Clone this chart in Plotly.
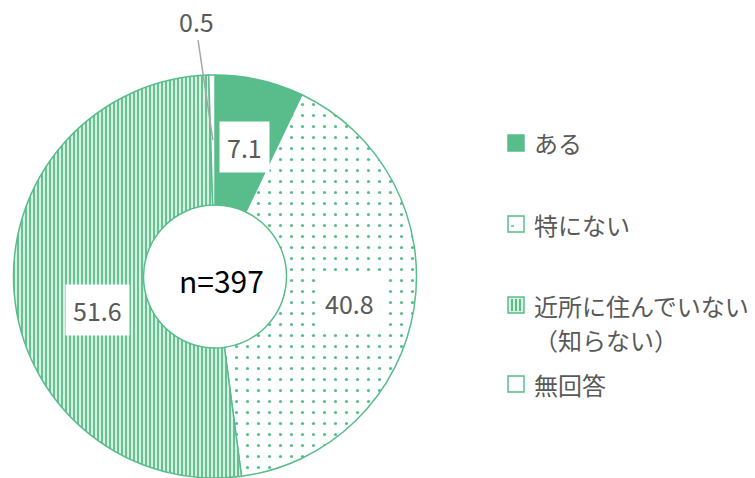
import math
import plotly.graph_objects as go

# ---- data ----
categories = ["ある", "特にない", "近所に住んでいない（知らない）", "無回答"]
legend_lines = [["ある"], ["特にない"], ["近所に住んでいない", "（知らない）"], ["無回答"]]
values = [7.1, 40.8, 51.6, 0.5]
sample_size = 397

# ---- style ----
W, H = 755, 478
GREEN = "#58BD8A"
LIGHT_GREEN = "#D9F0E3"
TEXT_GRAY = "#595959"
FONT = "Noto Sans CJK JP"

cx, cy = 215, 276.5      # donut centre (px)
R = 201.5                # outer radius (px)
HOLE_R = 71.5            # inner radius (px)

# per-slice label placement: (radius px, angle offset deg, boxed)
label_place = [(133, 0.2, True), (137.5, 2.0, True), (122, -11.3, True), (256, -3.2, False)]


def px(x):
    return x / W


def py(y):
    return 1 - y / H


def polar(r, deg):
    a = math.radians(deg)
    return cx + r * math.sin(a), cy - r * math.cos(a)


fig = go.Figure(go.Pie(
    labels=categories,
    values=values,
    sort=False,
    direction="clockwise",
    rotation=0,
    hole=HOLE_R / R,
    domain=dict(x=[px(cx - R), px(cx + R)], y=[py(cy + R), py(cy - R)]),
    marker=dict(
        colors=[GREEN, GREEN, GREEN, "white"],
        line=dict(color=GREEN, width=1.5),
        pattern=dict(
            shape=["", ".", "|", ""],
            fgcolor=[GREEN, GREEN, GREEN, "white"],
            bgcolor=["white", "white", LIGHT_GREEN, "white"],
            size=[8, 11, 4, 8],
            solidity=[0.3, 0.065, 0.45, 0.3],
        ),
    ),
    textinfo="none",
    hoverinfo="label+value",
    showlegend=False,
))

annotations = []
shapes = []

# slice value labels, positioned from each slice's angle
total = sum(values)
start = 0.0
mids = []
for v in values:
    span = v / total * 360
    mids.append(start + span / 2)
    start += span

for v, mid, (r, off, boxed) in zip(values, mids, label_place):
    x, y = polar(r, mid + off)
    annotations.append(dict(
        x=px(x), y=py(y), xref="paper", yref="paper", showarrow=False,
        xanchor="center", yanchor="middle",
        text=f"{v:.1f}", font=dict(family=FONT, size=25, color=TEXT_GRAY),
        bgcolor="white" if boxed else "rgba(0,0,0,0)", borderpad=7,
    ))

# leader line for the smallest slice
x0, y0 = polar(136.5, mids[3])
x1, y1 = polar(237, mids[3] - 3.2)
shapes.append(dict(type="line", xref="paper", yref="paper",
                   x0=px(x0), y0=py(y0), x1=px(x1), y1=py(y1),
                   line=dict(color="#A6A6A6", width=1.5)))

# sample size in the hole
annotations.append(dict(
    x=px(221), y=py(280), xref="paper", yref="paper", showarrow=False,
    xanchor="center", yanchor="middle",
    text=f"n={sample_size}", font=dict(family=FONT, size=30, color="black"),
))

# ---- legend (drawn by hand) ----
row_y = [143, 224, 305, 384]
line_gap = 34
sq = 16
sx0 = 508
tx = 532
for i, (lines, yc) in enumerate(zip(legend_lines, row_y)):
    y_top, y_bot = yc - sq / 2, yc + sq / 2
    if i == 0:
        fill = GREEN
    elif i == 2:
        fill = LIGHT_GREEN
    else:
        fill = "white"
    shapes.append(dict(type="rect", xref="paper", yref="paper",
                       x0=px(sx0), x1=px(sx0 + sq), y0=py(y_bot), y1=py(y_top),
                       fillcolor=fill, line=dict(color=GREEN, width=1.5)))
    if i == 1:
        shapes.append(dict(type="line", xref="paper", yref="paper",
                           x0=px(sx0 + 3), x1=px(sx0 + 6), y0=py(yc + 2), y1=py(yc + 2),
                           line=dict(color=GREEN, width=1.5)))
    if i == 2:
        for k in range(3):
            xs = sx0 + 4 + k * 4
            shapes.append(dict(type="line", xref="paper", yref="paper",
                               x0=px(xs), x1=px(xs), y0=py(y_bot - 2), y1=py(y_top + 2),
                               line=dict(color=GREEN, width=2)))
    for j, t in enumerate(lines):
        annotations.append(dict(
            x=px(tx), y=py(yc + j * line_gap), xref="paper", yref="paper",
            xanchor="left", yanchor="middle", showarrow=False, text=t,
            font=dict(family=FONT, size=24, color=TEXT_GRAY),
        ))

fig.update_layout(
    width=W, height=H,
    margin=dict(l=0, r=0, t=0, b=0),
    paper_bgcolor="white",
    plot_bgcolor="white",
    annotations=annotations,
    shapes=shapes,
)

fig.write_html("out.html")
